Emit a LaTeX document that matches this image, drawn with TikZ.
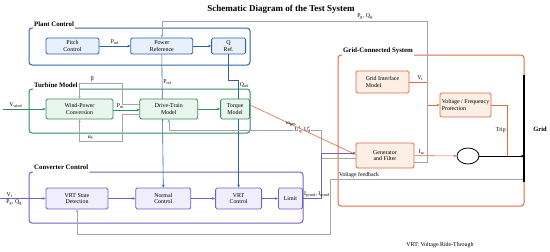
\documentclass[tikz,border=0pt]{standalone}
\usepackage{fontspec}
\setmainfont{Liberation Serif}
\usepackage{tikz}
\usetikzlibrary{arrows.meta,positioning,shapes.geometric,backgrounds}
\usepackage{xcolor}
\definecolor{plantblue}{RGB}{46,98,170}
\definecolor{plantfill}{RGB}{232,241,251}
\definecolor{turbgreen}{RGB}{52,140,96}
\definecolor{turbfill}{RGB}{233,246,238}
\definecolor{convpurple}{RGB}{116,96,196}
\definecolor{convfill}{RGB}{241,238,252}
\definecolor{gridorange}{RGB}{222,108,66}
\definecolor{gridfill}{RGB}{253,239,228}
\definecolor{fbgray}{RGB}{165,165,165}
\newcommand{\sub}[1]{\textsubscript{#1}}

\begin{document}
\begin{tikzpicture}[
    x=1pt, y=-1pt,
    box/.style={draw, rounded corners=1.5pt, align=center, inner sep=1pt,
                font=\fontsize{5.9}{6.8}\selectfont, line width=0.8pt},
    pcbox/.style={box, draw=plantblue, fill=plantfill, minimum height=16pt},
    tmbox/.style={box, draw=turbgreen, fill=turbfill, minimum height=20pt},
    ccbox/.style={box, draw=convpurple, fill=convfill, minimum height=21pt},
    gcbox/.style={box, draw=gridorange, fill=gridfill},
    group/.style={rounded corners=3pt, line width=1pt},
    grouplabel/.style={font=\fontsize{6.8}{7.5}\selectfont\bfseries, anchor=west, inner sep=1pt},
    sig/.style={font=\fontsize{5.8}{6.5}\selectfont, inner sep=1pt},
    arrow/.style={-{Stealth[length=3pt, width=2.6pt]}, line width=0.6pt},
    pcarrow/.style={arrow, draw=plantblue},
    tmarrow/.style={arrow, draw=turbgreen},
    ccarrow/.style={arrow, draw=convpurple},
    gcarrow/.style={arrow, draw=gridorange},
    gcline/.style={line width=0.6pt, draw=gridorange},
    fbarrow/.style={arrow, draw=fbgray},
    gridarrow/.style={arrow, draw=black},
    gridbus/.style={line width=1.6pt, draw=black},
]
\useasboundingbox (0,0) rectangle (550,252);

% Title
\node[font=\fontsize{9}{10}\selectfont\bfseries] (title) at (281,9) {Schematic Diagram of the Test System};

% Group labels
\node[grouplabel] (pclabel) at (33,24) {Plant Control};
\node[grouplabel] (tmlabel) at (33,85) {Turbine Model};
\node[grouplabel] (cclabel) at (33,167) {Converter Control};
\node[grouplabel] (gclabel) at (342,51) {Grid-Connected System};

% Plant control
\node[pcbox, minimum width=53pt] (pitch) at (72.5,46) {Pitch\\Control};
\node[pcbox, minimum width=62pt, right=31pt of pitch] (power) {Power\\Reference};
\node[pcbox, minimum width=34pt, right=18pt of power] (qref) {Q\\Ref.};

% Turbine model
\node[tmbox, minimum width=67pt] (wpc) at (79.5,109) {Wind-Power\\Conversion};
\node[tmbox, minimum width=58pt, right=26pt of wpc] (dtm) {Drive-Train\\Model};
\node[tmbox, minimum width=29pt, right=22pt of dtm] (torque) {Torque\\Model};

% Converter control
\node[ccbox, minimum width=62pt] (vrtsd) at (77,198.5) {VRT State\\Detection};
\node[ccbox, minimum width=55pt, right=27pt of vrtsd] (normal) {Normal\\Control};
\node[ccbox, minimum width=46pt, right=24pt of normal] (vrtc) {VRT\\Control};
\node[ccbox, minimum width=24pt, right=16pt of vrtc] (limit) {Limit};

% Grid-connected system
\node[gcbox, align=left, minimum width=53pt, minimum height=22pt] (gim) at (382.5,82) {Grid Interface\\Model};
\node[gcbox, align=left, minimum width=51pt, minimum height=24pt] (prot) at (465.5,105) {Voltage / Frequency\\Protection};
\node[gcbox, minimum width=58pt, minimum height=25pt] (gen) at (385,155.5) {Generator\\and Filter};
\node[draw, ellipse, line width=0.8pt, minimum width=22pt, minimum height=16pt, inner sep=0pt] (breaker) at (468,156) {};

% Grid bus
\coordinate (gridtop) at (524,75);
\coordinate (gridbot) at (524,182);
\node[font=\fontsize{6.5}{7}\selectfont\bfseries] (gridlbl) at (540,129) {Grid};

% Helper points
\coordinate (pctop) at (250,28);
\coordinate (tmtop) at (250,89);
\coordinate (cctop) at (303,172);
\coordinate (gctop) at (524,55);
\coordinate (windin) at (3,109);
\coordinate (vtin) at (0,198.5);
\coordinate (fbcorner) at (321,130);
\coordinate (cmdbend) at (321,153);
\coordinate (pgqtop) at (427,21);
\coordinate (vfb) at (524,179);
\coordinate (vfbcorner) at (330,234);
\coordinate (tripjoin) at (507,156);

\begin{scope}[on background layer]
% Group borders
\draw[group, draw=plantblue] (pclabel.east |- pctop) -- (pctop) -- (250,65) -- (29,65) -- (29,28) -- ++(4,0);
\draw[group, draw=turbgreen] (tmlabel.east |- tmtop) -- (tmtop) -- (250,133) -- (29,133) -- (29,89) -- ++(4,0);
\draw[group, draw=convpurple] (cclabel.east |- cctop) -- (cctop) -- (303,223) -- (29,223) -- (29,172) -- ++(4,0);
\draw[group, draw=gridorange] (gclabel.east |- gctop) -- (gctop) -- (524,206) -- (338,206) -- (338,55) -- ++(4,0);

% Plant control signals
\draw[pcarrow] (pitch) -- node[sig, above] {P\sub{ref}} (power);
\draw[pcarrow] (power) -- (qref);
\draw[pcarrow] (power.south) -- node[sig, right, pos=0.21] {P\sub{ref}} (normal.north);
\draw[pcarrow] (qref.south) -- ++(0,26) -| node[sig, right, pos=0.52] {Q\sub{ref}} (vrtc.north);

% Turbine signals
\draw[tmarrow] (windin) -- node[sig, above, pos=0.3] {V\sub{wind}} (wpc);
\draw[tmarrow] ([yshift=-1pt]wpc.east) -- node[sig, above, pos=0.27] {P\sub{m}} ([yshift=-1pt]dtm.west);
\draw[tmarrow] (dtm) -- (torque);
\draw[fbarrow] ([yshift=5pt]dtm.west) -- ++(-17,0) -- ++(0,-21) -| node[sig, above, pos=0.35] {β} (wpc.north);
\draw[fbarrow] ([yshift=-5pt]dtm.west) -- ++(-17,0) -- ++(0,27) -| node[sig, above, pos=0.37] {ω\sub{t}} (wpc.south);

% Generator feedback to drive train
\draw[fbarrow] ([yshift=-3pt]gen.west) -| (fbcorner) -| node[sig, fill=white, inner sep=0.5pt, pos=0.06] {U\rlap{\textsuperscript{r}}\sub{q}, U\rlap{\textsuperscript{r}}\sub{d}} (dtm.south);
\draw[gcarrow] ([yshift=4pt]torque.east) -- node[sig, pos=0.39] {ω\sub{gen}} ([yshift=1pt]gen.west);

% Converter signals
\draw[ccarrow] (vtin) -- node[sig, above, pos=0.21] {V\sub{t}} node[sig, below, pos=0.31] {P\sub{g}, Q\sub{g}} (vrtsd);
\draw[ccarrow] (vrtsd) -- (normal);
\draw[ccarrow] (normal) -- (vrtc);
\draw[ccarrow] (vrtc) -- (limit);
\draw[ccarrow] (limit.east) -| node[sig, anchor=south west, pos=0] {I\sub{pcmd}, I\sub{qcmd}} (cmdbend) -- ([yshift=2.5pt]gen.west);

% Grid-connected signals
\draw[gcarrow] (gim.east) -- ++(18,0) node[sig, above, pos=0.6] {V\sub{t}} |- (prot.west);
\draw[gcline] (prot.east) -| node[sig, left, pos=0.75] {Trip} (tripjoin);
\draw[gcarrow] (gen) -- node[sig, above, pos=0.18] {I\sub{ac}} (breaker);
\draw[gridarrow] (breaker) -- (breaker -| gridtop);

% Measured P, Q back to plant control
\draw[fbarrow] ([yshift=-6.5pt]gen.east) -| (pgqtop) -| node[sig, above, pos=0.117] {P\sub{g}, Q\sub{g}} (power.north);

% Voltage feedback
\draw[fbarrow] (vfb) -| node[sig, above, pos=0.425] {Voltage feedback} (vfbcorner) -| (vrtsd.south);
\end{scope}

\draw[gridbus] (gridtop) -- (gridbot);

% Footnote
\node[sig, font=\fontsize{5.9}{6.5}\selectfont] (note) at (440,245) {VRT: Voltage Ride-Through};

\end{tikzpicture}
\end{document}
